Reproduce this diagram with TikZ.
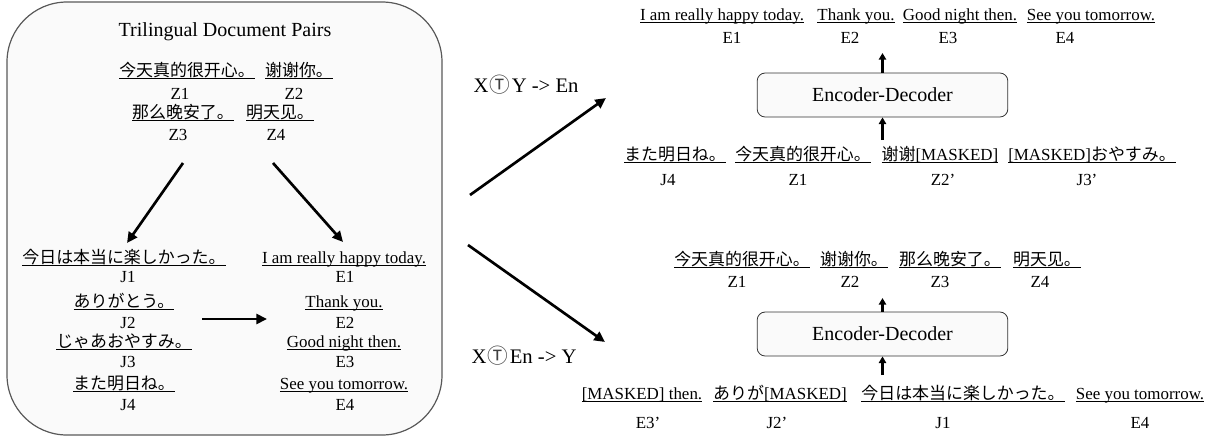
\documentclass[tikz,border=0pt]{standalone}
\usepackage{fontspec}
\setmainfont{Liberation Serif}
\newfontfamily\zh{Noto Sans CJK SC}
\newfontfamily\ja{Noto Sans CJK JP}
\usetikzlibrary{arrows.meta}
\newsavebox\ulbox
\newcommand\myul[1]{\sbox\ulbox{#1}\rlap{\rule[-2.4pt]{\wd\ulbox}{0.55pt}}\usebox\ulbox}
\newcommand\circT{\kern1pt{\ja\color{black!75}Ⓣ}\kern1pt}
\begin{document}
\begin{tikzpicture}[x=0.75pt,y=-0.75pt,
  t/.style={anchor=base,inner sep=0pt,font=\fontsize{12.7}{15}\selectfont},
  big/.style={anchor=base,inner sep=0pt,font=\fontsize{15}{18}\selectfont},
  lab/.style={anchor=base,inner sep=0pt,font=\fontsize{15.5}{18}\selectfont},
  arr/.style={line width=2pt,-{Triangle[length=8pt,width=7.5pt]}},
  sarr/.style={line width=2.2pt,-{Triangle[length=5pt,width=5.5pt]}},
  frame/.style={draw=black!65,fill=gray!4,line width=0.9pt,rounded corners=45pt,inner sep=0pt},
  encbox/.style={draw=black!80,fill=gray!4,rounded corners=6pt,line width=0.6pt,minimum width=188pt,minimum height=33pt,inner sep=0pt,font=\fontsize{15}{18}\selectfont}]
\useasboundingbox (0,0) rectangle (1217,436);
% left frame
\node[frame,minimum width=326.25pt,minimum height=324.75pt] (pairs) at (224.5,218.5) {};
\node[big] (title) at (225,36) {Trilingual Document Pairs};
\node[t] (lz1) at (187,76) {\myul{\zh 今天真的很开心。}};
\node[t] (lz2) at (299,76) {\myul{\zh 谢谢你。}};
\node[t] (lz1l) at (180,99) {Z1};
\node[t] (lz2l) at (294,99) {Z2};
\node[t] (lz3) at (183,118) {\myul{\zh 那么晚安了。}};
\node[t] (lz4) at (280,118) {\myul{\zh 明天见。}};
\node[t] (lz3l) at (178,140) {Z3};
\node[t] (lz4l) at (276,140) {Z4};
% J column
\node[t] (lj1) at (124,263) {\myul{\ja 今日は本当に楽しかった。}};
\node[t] (lj1l) at (128,282) {J1};
\node[t] (lj2) at (124,307) {\myul{\ja ありがとう。}};
\node[t] (lj2l) at (128,328) {J2};
\node[t] (lj3) at (124,347) {\myul{\ja じゃあおやすみ。}};
\node[t] (lj3l) at (128,367) {J3};
\node[t] (lj4) at (124,389) {\myul{\ja また明日ね。}};
\node[t] (lj4l) at (128,410) {J4};
% E column
\node[t] (le1) at (344,263) {\myul{I am really happy today.}};
\node[t] (le1l) at (345,282) {E1};
\node[t] (le2) at (344,307) {\myul{Thank you.}};
\node[t] (le2l) at (345,328) {E2};
\node[t] (le3) at (344,347) {\myul{Good night then.}};
\node[t] (le3l) at (345,367) {E3};
\node[t] (le4) at (344,389) {\myul{See you tomorrow.}};
\node[t] (le4l) at (345,410) {E4};
% arrows inside frame
\coordinate (a1s) at (183,163);
\coordinate (a1e) at (127,243);
\coordinate (a2s) at (273,163);
\coordinate (a2e) at (343,242);
\coordinate (a3s) at (202,319);
\coordinate (a3e) at (267,319);
\draw[arr] (a1s) -- (a1e);
\draw[arr] (a2s) -- (a2e);
\draw[arr] (a3s) -- (a3e);
% middle arrows and labels
\coordinate (m1s) at (470,195);
\coordinate (m1e) at (606,98);
\coordinate (m2s) at (468,245);
\coordinate (m2e) at (605,342);
\draw[arr] (m1s) -- (m1e);
\draw[arr] (m2s) -- (m2e);
\node[lab] (lab1) at (526,92) {X\circT Y -> En};
\node[lab] (lab2) at (524,363) {X\circT En -> Y};
% top right
\node[encbox] (enc1) at (882.5,95) {Encoder-Decoder};
\node[t] (o1) at (722,20) {\myul{I am really happy today.}};
\node[t] (o1l) at (732,43) {E1};
\node[t] (o2) at (856,20) {\myul{Thank you.}};
\node[t] (o2l) at (850,43) {E2};
\node[t] (o3) at (960,20) {\myul{Good night then.}};
\node[t] (o3l) at (948,43) {E3};
\node[t] (o4) at (1091,20) {\myul{See you tomorrow.}};
\node[t] (o4l) at (1065,43) {E4};
\node[t] (i1) at (675,160) {\myul{\ja また明日ね。}};
\node[t] (i1l) at (668,185) {J4};
\node[t] (i2) at (803,160) {\myul{\zh 今天真的很开心。}};
\node[t] (i2l) at (798,185) {Z1};
\node[t] (i3) at (940,160) {\myul{{\zh 谢谢}[MASKED]}};
\node[t] (i3l) at (943,185) {Z2’};
\node[t] (i4) at (1092,160) {\myul{[MASKED]{\ja おやすみ。}}};
\node[t] (i4l) at (1087,185) {J3’};
\coordinate (u1in) at (882.5,140);
\coordinate (u1out) at (882.5,53);
\draw[sarr] (u1in) -- (enc1.south);
\draw[sarr] (enc1.north) -- (u1out);
% bottom right
\node[encbox] (enc2) at (882.5,334) {Encoder-Decoder};
\node[t] (p1) at (742,265) {\myul{\zh 今天真的很开心。}};
\node[t] (p1l) at (737,287) {Z1};
\node[t] (p2) at (854,265) {\myul{\zh 谢谢你。}};
\node[t] (p2l) at (850,287) {Z2};
\node[t] (p3) at (950,265) {\myul{\zh 那么晚安了。}};
\node[t] (p3l) at (940,287) {Z3};
\node[t] (p4) at (1047,265) {\myul{\zh 明天见。}};
\node[t] (p4l) at (1040,287) {Z4};
\node[t] (q1) at (642,399) {\myul{[MASKED] then.}};
\node[t] (q1l) at (648,428) {E3’};
\node[t] (q2) at (780,399) {\myul{{\ja ありが}[MASKED]}};
\node[t] (q2l) at (777,428) {J2’};
\node[t] (q3) at (963,399) {\myul{\ja 今日は本当に楽しかった。}};
\node[t] (q3l) at (943,428) {J1};
\node[t] (q4) at (1140,399) {\myul{See you tomorrow.}};
\node[t] (q4l) at (1140,428) {E4};
\coordinate (u2in) at (882.5,375);
\coordinate (u2out) at (882.5,298);
\draw[sarr] (u2in) -- (enc2.south);
\draw[sarr] (enc2.north) -- (u2out);
\end{tikzpicture}
\end{document}
